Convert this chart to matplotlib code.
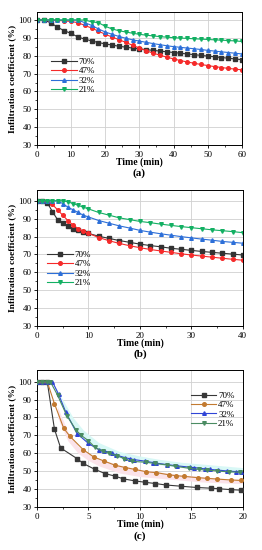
import matplotlib
matplotlib.use("Agg")
import matplotlib.pyplot as plt
import numpy as np

plt.rcParams['font.family'] = ['Liberation Serif', 'DejaVu Serif']

labels = ['70%', '47%', '32%', '21%']

# panel (a)
t_a = np.arange(0, 61, 2)
a_70 = [100, 100, 98.5, 96, 94, 92.5, 90.5, 89.3, 88.3, 87.4, 86.6, 86, 85.3, 84.8, 84.3, 83.8,
        83.4, 83, 82.6, 82.2, 81.8, 81.4, 81, 80.6, 80.2, 79.8, 79.4, 79, 78.6, 78.2, 77.8]
a_47 = [100, 100, 100, 99.8, 99.5, 99.2, 98.5, 97, 95.5, 93.8, 92, 90.5, 89, 87.5, 85.8, 84.3,
        82.8, 81.5, 80.3, 79.2, 78.2, 77.3, 76.5, 75.8, 75.1, 74.5, 73.9, 73.4, 72.9, 72.5, 72.1]
a_32 = [100, 100, 100, 100, 100, 100, 100, 98.5, 97, 95, 93.3, 92, 90.8, 89.8, 88.9, 88.2,
        87.5, 86.8, 86.2, 85.6, 85.1, 84.7, 84.3, 83.9, 83.5, 83, 82.6, 82.2, 81.8, 81.4, 81]
a_21 = [100, 100, 100, 100, 100, 100, 100, 100, 99, 98.5, 96.5, 95, 94, 93.3, 92.6, 92,
        91.5, 91.1, 90.7, 90.4, 90.1, 89.9, 89.7, 89.5, 89.3, 89.1, 88.9, 88.7, 88.5, 88.3, 88]

# panel (b)
t_b = [0, 1, 2, 3, 4, 5, 6, 7, 8, 9, 10, 12, 14, 16, 18, 20, 22, 24, 26, 28, 30, 32, 34, 36, 38, 40]
b_70 = [100, 100, 99, 94, 89.5, 87.5, 86, 84.5, 83.5, 82.5, 81.8, 80.2, 79, 77.8, 76.8, 75.8,
        75, 74.3, 73.5, 72.9, 72.3, 71.7, 71.2, 70.7, 70.2, 69.7]
b_47 = [100, 100, 100, 98, 95, 92, 89, 86.5, 84.5, 83, 81.8, 79.5, 77.7, 76.2, 74.9, 73.8,
        72.8, 72, 71.2, 70.4, 69.7, 69.1, 68.5, 67.9, 67.3, 66.8]
b_32 = [100, 100, 100, 100, 100, 98.5, 96.5, 95, 93.5, 92, 91, 89, 87.5, 86, 84.8, 83.5,
        82.5, 81.6, 80.8, 80, 79.3, 78.6, 78, 77.3, 76.8, 76.3]
b_21 = [100, 100, 100, 100, 100, 100, 99.5, 98.5, 97.5, 96.5, 95.5, 93.5, 92, 90.5, 89.5, 88.5,
        87.8, 87, 86.3, 85.6, 85, 84.4, 83.8, 83.3, 82.8, 82.2]

# panel (c)
c70_t = [0, 0.5, 1.0, 1.7, 2.3, 3.9, 4.5, 5.6, 6.6, 7.6, 8.4, 9.5, 10.5, 11.5, 12.5, 14, 15.5, 16.9, 17.7, 18.8, 19.8]
c70_y = [100, 100, 100, 73.5, 63, 57, 54.3, 51.1, 48.7, 47.2, 45.7, 44.6, 43.8, 43.1, 42.3, 41.6, 40.9, 40.5, 40.2, 39.7, 39.4]
c47_t = [0, 0.5, 1.0, 1.7, 2.6, 3.2, 4.5, 5.5, 6.5, 7.6, 8.6, 9.5, 10.6, 11.6, 12.8, 13.5, 14.3, 15.6, 16.5, 17.5, 18.8, 19.8]
c47_y = [100, 100, 100, 87.7, 74, 69.5, 62, 58, 55.7, 53.3, 52, 51, 49.7, 49.2, 48, 47.5, 47.1, 46.4, 46, 45.6, 45.1, 44.8]
c32_t = [0, 0.5, 1.0, 1.5, 2.1, 2.8, 3.9, 5.0, 6.0, 6.5, 7.3, 7.7, 8.6, 9.0, 9.4, 10.5, 11.3, 11.6, 12.6, 13.6,
         14.9, 15.3, 16.3, 16.8, 17.6, 18.5, 19.3, 19.8]
c32_y = [100, 100, 100, 100, 93, 83, 71, 65.5, 62, 61.5, 60, 59, 57.5, 57, 56.5, 55.6, 54.8, 54.5, 53.7, 53,
         52.2, 52, 51.3, 51, 50.6, 50.1, 49.8, 49.6]
c21_t = [0, 0.5, 1.0, 1.3, 2.0, 2.9, 3.8, 4.3, 5.0, 5.6, 6.4, 7.0, 7.8, 8.5, 9.2, 10.6, 11.5, 12.6, 13.4, 14.8,
         15.7, 16.5, 17.5, 18.7, 19.7]
c21_y = [100, 100, 100, 100, 92.5, 81, 73, 70, 67, 63.5, 61, 60, 58.5, 57, 55.5, 55, 54.3, 53.5, 52.8, 51.6,
         51, 50.6, 50.1, 49.6, 49.4]
# shaded bands in (c)
band_t = [1.5, 2.5, 3.5, 4.5, 6, 8, 10, 12, 14, 16, 18, 20]
cyan_lo = [100, 85, 74, 68, 62, 57.5, 55, 53.5, 52, 51, 50, 49]
cyan_hi = [100, 90, 80, 73, 66, 61, 58.5, 56.5, 55, 54, 53, 52]
pink_t = [2, 3, 4, 5, 6, 8, 10, 12, 14, 16, 18, 20]
pink_lo = [80, 67, 60, 56, 53, 49, 47, 46, 45, 44, 43.5, 43]
pink_hi = [86, 72, 64, 60, 57, 53.5, 51, 49.5, 48, 47, 46, 45.5]

fig = plt.figure(figsize=(2.62, 5.5), dpi=100)
ax_a = fig.add_axes([0.141, 0.7364, 0.782, 0.2418])
ax_b = fig.add_axes([0.141, 0.4073, 0.786, 0.247])
ax_c = fig.add_axes([0.141, 0.0782, 0.786, 0.249])

cols_ab = ['#333333', '#f52a2a', '#2d6fd8', '#13b063']
cols_c = ['#383838', '#c27a30', '#2f44d6', '#4a8c62']
mk = ['s', 'o', '^', 'v']

for y, c, m, lab in zip([a_70, a_47, a_32, a_21], cols_ab, mk, labels):
    ax_a.plot(t_a, y, color=c, marker=m, ms=2.6, lw=0.8, label=lab)
for y, c, m, lab in zip([b_70, b_47, b_32, b_21], cols_ab, mk, labels):
    ax_b.plot(t_b, y, color=c, marker=m, ms=2.6, lw=0.8, label=lab)

ax_c.fill_between(band_t, cyan_lo, cyan_hi, color='#d8f8f6', lw=0, zorder=1)
ax_c.fill_between(pink_t, pink_lo, pink_hi, color='#fbe3ea', lw=0, zorder=1)
for t, y, c, m, lab in zip([c70_t, c47_t, c32_t, c21_t], [c70_y, c47_y, c32_y, c21_y], cols_c, mk, labels):
    ax_c.plot(t, y, color=c, marker=m, ms=2.6, lw=0.8, label=lab, zorder=3)

setup = [(ax_a, 60, 10, 104.5, '(a)'), (ax_b, 40, 10, 106, '(b)'), (ax_c, 20, 5, 106.5, '(c)')]
for ax, xmax, step, ytop, cap in setup:
    ax.set_xlim(0, xmax)
    ax.set_ylim(30, ytop)
    ax.set_xticks(np.arange(0, xmax + 1, step))
    ax.set_xticks(np.arange(0, xmax + 1, step / 2), minor=True)
    ax.set_yticks(np.arange(30, 101, 10))
    ax.set_yticks(np.arange(30, 101, 5), minor=True)
    ax.grid(True, which='major', color='#d0d0d0', lw=0.6)
    ax.set_axisbelow(True)
    ax.tick_params(labelsize=6.5, length=2.5, width=0.6, pad=1.5)
    ax.tick_params(which='minor', length=1.5, width=0.5)
    for s in ax.spines.values():
        s.set_linewidth(0.7)
    ax.set_xlabel('Time (min)', fontsize=7, fontweight='bold', labelpad=-0.5)
    ax.set_ylabel('Infiltration coefficient (%)', fontsize=6.8, fontweight='bold', labelpad=1)
    ax.text(0.5, -0.175, cap, transform=ax.transAxes, ha='center', va='top', fontsize=8, fontweight='bold')

leg_kw = dict(fontsize=6.5, frameon=False, handlelength=2.8, labelspacing=0.12, borderpad=0.2, handletextpad=0.2)
ax_a.legend(loc='center left', bbox_to_anchor=(0.04, 0.52), **leg_kw)
ax_b.legend(loc='center left', bbox_to_anchor=(0.02, 0.42), **leg_kw)
ax_c.legend(loc='upper right', bbox_to_anchor=(0.99, 0.89), **leg_kw)

fig.savefig('out.png', dpi=100)
